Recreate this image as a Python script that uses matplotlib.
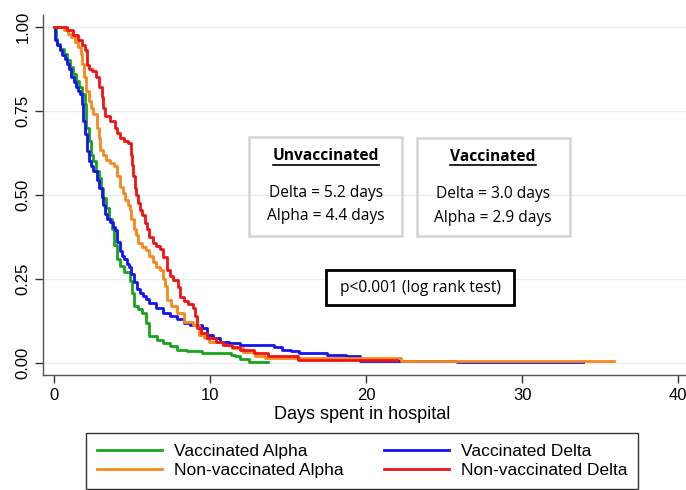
import matplotlib
matplotlib.use("Agg")
import matplotlib.pyplot as plt
from matplotlib.patches import Rectangle
from matplotlib.lines import Line2D

# Kaplan-Meier style step curves: (day, fraction still in hospital)
va_days = [0, 0.1, 0.2, 0.4, 0.6, 0.8, 1.0, 1.2, 1.4, 1.6, 1.8, 1.95, 2.05, 2.2, 2.35, 2.5,
           2.7, 2.85, 3.0, 3.15, 3.3, 3.5, 3.7, 3.85, 4.0, 4.2, 4.5, 4.85, 5.0, 5.1, 5.4,
           5.6, 5.9, 6.1, 6.6, 7.0, 7.4, 7.9, 8.5, 9.5, 11.3, 11.6, 11.9, 12.5, 13.7]
va_surv = [1.0, 0.965, 0.95, 0.935, 0.92, 0.90, 0.88, 0.86, 0.84, 0.82, 0.80, 0.77, 0.70, 0.66, 0.62, 0.60,
           0.57, 0.55, 0.52, 0.49, 0.46, 0.43, 0.40, 0.35, 0.31, 0.29, 0.27, 0.245, 0.21, 0.17, 0.16,
           0.15, 0.12, 0.08, 0.07, 0.06, 0.05, 0.04, 0.035, 0.03, 0.025, 0.02, 0.012, 0.005, 0.005]

vd_days = [0, 0.05, 0.2, 0.35, 0.5, 0.7, 0.8, 0.95, 1.1, 1.25, 1.4, 1.55, 1.65, 1.75, 1.85,
           1.95, 2.1, 2.2, 2.35, 2.5, 2.75, 2.9, 3.05, 3.15, 3.25, 3.4, 3.6, 3.75, 3.9, 4.05,
           4.2, 4.35, 4.5, 4.65, 4.8, 4.95, 5.1, 5.3, 5.5, 5.7, 5.9, 6.1, 6.5, 7.0, 7.4, 7.9,
           8.3, 8.7, 9.5, 9.8, 10.2, 10.6, 11.2, 11.9, 14.1, 14.6, 15.2, 15.7, 17.5, 18.7,
           19.6, 25.8, 33.9]
vd_surv = [1.0, 0.96, 0.945, 0.93, 0.915, 0.905, 0.89, 0.875, 0.85, 0.835, 0.82, 0.81, 0.80, 0.77, 0.72,
           0.68, 0.63, 0.60, 0.585, 0.57, 0.545, 0.52, 0.495, 0.47, 0.445, 0.43, 0.42, 0.405, 0.395, 0.36,
           0.335, 0.32, 0.31, 0.295, 0.285, 0.265, 0.24, 0.22, 0.21, 0.20, 0.19, 0.178, 0.165, 0.15, 0.14, 0.13,
           0.12, 0.115, 0.104, 0.085, 0.074, 0.064, 0.059, 0.054, 0.048, 0.04, 0.035, 0.03, 0.025, 0.02,
           0.007, 0.003, 0.003]

na_days = [0, 0.6, 0.9, 1.1, 1.3, 1.5, 1.7, 1.8, 1.9, 2.05, 2.2, 2.35, 2.5, 2.75, 2.85, 2.95,
           3.15, 3.35, 3.6, 3.8, 4.0, 4.2, 4.4, 4.55, 4.7, 4.85, 4.95, 5.1, 5.25, 5.4, 5.65,
           5.9, 6.1, 6.3, 6.55, 6.8, 6.95, 7.1, 7.2, 7.5, 7.85, 8.3, 8.9, 9.3, 9.6, 9.9, 10.8,
           11.4, 12.1, 12.9, 13.5, 22.2, 35.9]
na_surv = [1.0, 0.99, 0.98, 0.97, 0.955, 0.94, 0.92, 0.89, 0.85, 0.81, 0.78, 0.76, 0.74, 0.70, 0.67, 0.635,
           0.62, 0.605, 0.595, 0.585, 0.555, 0.525, 0.505, 0.485, 0.47, 0.455, 0.43, 0.40, 0.38, 0.357, 0.345,
           0.337, 0.32, 0.30, 0.287, 0.277, 0.25, 0.23, 0.188, 0.17, 0.149, 0.124, 0.114, 0.084, 0.075, 0.064, 0.054,
           0.045, 0.034, 0.02, 0.015, 0.008, 0.008]

nd_days = [0, 0.8, 1.2, 1.5, 1.8, 2.0, 2.1, 2.25, 2.4, 2.7, 2.9, 3.05, 3.15, 3.25, 3.6, 3.9,
           4.05, 4.2, 4.5, 4.7, 4.9, 5.0, 5.05, 5.15, 5.25, 5.4, 5.5, 5.6, 5.8, 5.95, 6.1,
           6.35, 6.55, 6.8, 7.0, 7.2, 7.4, 7.6, 7.95, 8.05, 8.3, 8.6, 8.9, 9.0, 9.15, 9.4,
           9.8, 10.4, 10.8, 11.4, 11.9, 12.8, 13.7, 15.6, 22.0]
nd_surv = [1.0, 0.99, 0.975, 0.96, 0.945, 0.93, 0.885, 0.875, 0.87, 0.85, 0.82, 0.79, 0.76, 0.735, 0.72, 0.70,
           0.685, 0.67, 0.66, 0.655, 0.62, 0.59, 0.555, 0.52, 0.50, 0.475, 0.455, 0.44, 0.416, 0.40, 0.375,
           0.357, 0.348, 0.34, 0.317, 0.277, 0.26, 0.247, 0.228, 0.198, 0.185, 0.175, 0.163, 0.14, 0.104, 0.089,
           0.075, 0.064, 0.054, 0.048, 0.04, 0.03, 0.02, 0.01, 0.01]

x_ticks = [0, 10, 20, 30, 40]
y_ticks = [0.00, 0.25, 0.50, 0.75, 1.00]
y_ticklabels = ["0.00", "0.25", "0.50", "0.75", "1.00"]

unvacc_lines = ["Delta = 5.2 days", "Alpha = 4.4 days"]
vacc_lines = ["Delta = 3.0 days", "Alpha = 2.9 days"]
p_text = "p<0.001 (log rank test)"

W, H = 686, 490
plt.rcParams['font.family'] = ['Liberation Sans', 'DejaVu Sans']


def fx(px):
    return px / W


def fy(py):
    return 1 - py / H


fig = plt.figure(figsize=(6.86, 4.90), dpi=100)
ax = fig.add_axes([fx(43), fy(375), (686 - 43) / W, (375 - 15) / H])

ax.step(va_days, va_surv, where='post', color='#1aa31a', lw=2, label='Vaccinated Alpha')
ax.step(vd_days, vd_surv, where='post', color='#1414f0', lw=2, label='Vaccinated Delta')
ax.step(na_days, na_surv, where='post', color='#f7891e', lw=2, label='Non-vaccinated Alpha')
ax.step(nd_days, nd_surv, where='post', color='#ee1414', lw=2, label='Non-vaccinated Delta')

ax.set_xlim(-0.72, 40.5)
ax.set_ylim(-0.035, 1.035)
ax.set_xticks(x_ticks)
ax.set_yticks(y_ticks)
ax.set_yticklabels(y_ticklabels, rotation=90, va='center')
ax.tick_params(labelsize=12, length=6, width=1, color='#333333', pad=3)
ax.grid(axis='y', color='#e6eef1', lw=1)
ax.set_axisbelow(True)
for s in ['top', 'right']:
    ax.spines[s].set_visible(False)
for s in ['left', 'bottom']:
    ax.spines[s].set_color('#555555')
    ax.spines[s].set_linewidth(1)
ax.set_xlabel('Days spent in hospital', fontsize=13)
ax.xaxis.set_label_coords((362 - 43) / (686 - 43), -0.085)

# legend (column-wise: Alpha row on left, Delta on right)
h, l = ax.get_legend_handles_labels()
order = [0, 2, 1, 3]
leg = fig.legend([h[i] for i in order], [l[i] for i in order], ncol=2,
                 loc='upper left', bbox_to_anchor=(fx(86), fy(433)),
                 fontsize=12.5, frameon=True, fancybox=False,
                 handlelength=3.75, borderpad=0.62, labelspacing=0.22, handletextpad=0.7,
                 columnspacing=2.3, borderaxespad=0)
leg.get_frame().set_edgecolor('black')
leg.get_frame().set_linewidth(1)

# annotation boxes
box_font = ['Open Sans', 'DejaVu Sans']
fs = 11.2
fig.patches.append(Rectangle((fx(249), fy(236)), (402 - 249) / W, (236 - 137) / H,
                             transform=fig.transFigure, fill=False, ec='#d4d4d4', lw=1.8))
fig.patches.append(Rectangle((fx(417), fy(236)), (570 - 417) / W, (236 - 138) / H,
                             transform=fig.transFigure, fill=False, ec='#d4d4d4', lw=1.8))
fig.patches.append(Rectangle((fx(326), fy(305)), (514 - 326) / W, (305 - 270) / H,
                             transform=fig.transFigure, fill=True, fc='white', ec='black', lw=2))

t1 = fig.text(fx(326), fy(156), 'Unvaccinated', ha='center', va='center', fontsize=fs,
              fontweight='bold', family=box_font)
fig.text(fx(326), fy(193), unvacc_lines[0], ha='center', va='center', fontsize=fs, family=box_font)
fig.text(fx(326), fy(216), unvacc_lines[1], ha='center', va='center', fontsize=fs, family=box_font)
t2 = fig.text(fx(493), fy(157), 'Vaccinated', ha='center', va='center', fontsize=fs,
              fontweight='bold', family=box_font)
fig.text(fx(493), fy(194), vacc_lines[0], ha='center', va='center', fontsize=fs, family=box_font)
fig.text(fx(493), fy(218), vacc_lines[1], ha='center', va='center', fontsize=fs, family=box_font)
fig.text(fx(420), fy(288), p_text, ha='center', va='center', fontsize=fs, family=box_font)

# underline the box titles
fig.canvas.draw()
r = fig.canvas.get_renderer()
for t in (t1, t2):
    bb = t.get_window_extent(r)
    yline = fy(165)
    fig.lines.append(Line2D([bb.x0 / W, bb.x1 / W], [yline, yline], transform=fig.transFigure,
                            color='black', lw=1.2))

fig.savefig('out.png', dpi=100)
